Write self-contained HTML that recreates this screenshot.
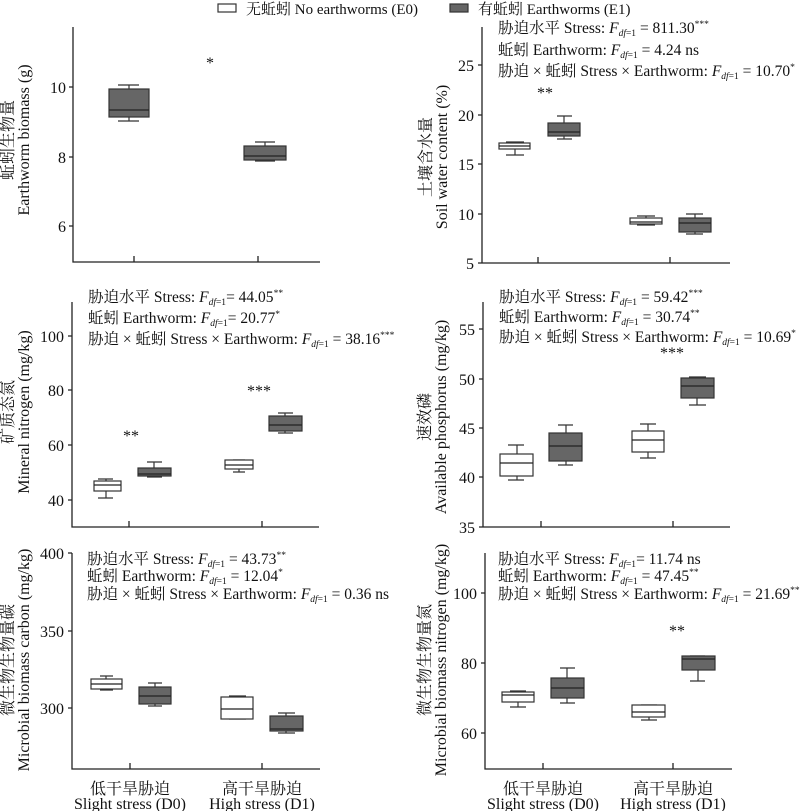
<!DOCTYPE html>
<html><head><meta charset="utf-8"><style>
html,body{margin:0;padding:0;background:#fff}
svg{display:block}
text{font-family:"Liberation Serif","Noto Serif CJK SC",serif;fill:#111}
.t{font-size:16px}
.a{font-size:15.5px}
.l{font-size:15px}
.s{font-size:9.5px}
.ax{stroke:#222;stroke-width:1.3;fill:none}
.w{fill:#fff;stroke:#333;stroke-width:1.2}
.g{fill:#666;stroke:#333;stroke-width:1.2}
.wl{stroke:#333;stroke-width:1.2;fill:none}
.m{stroke:#222;stroke-width:1.2}
</style></head><body>
<svg width="800" height="811" viewBox="0 0 800 811" xmlns="http://www.w3.org/2000/svg">
<!-- legend -->
<rect x="218" y="4" width="18" height="8" class="w"/>
<text x="246" y="14" class="l">无蚯蚓 No earthworms (E0)</text>
<rect x="450" y="4" width="18" height="8" class="g"/>
<text x="478" y="14" class="l">有蚯蚓 Earthworms (E1)</text>

<!-- Panel 1 -->
<path class="ax" d="M73 27V262H320M69 87H73M69 157H73M69 226H73M134 262V256M258 262V256"/>
<text x="66" y="93" class="t" text-anchor="end">10</text>
<text x="66" y="163" class="t" text-anchor="end">8</text>
<text x="66" y="232" class="t" text-anchor="end">6</text>
<text transform="translate(13,140) rotate(-90)" class="t" text-anchor="middle">蚯蚓生物量</text>
<text transform="translate(29,140) rotate(-90)" class="t" text-anchor="middle">Earthworm biomass (g)</text>
<path class="wl" d="M129 85V89M129 117V121M118 85H139M118 121H139"/>
<rect x="109" y="89" width="40" height="28" class="g"/><path class="m" d="M109 110H149"/>
<path class="wl" d="M265 142V146M265 160V161M255 142H275M255 161H275"/>
<rect x="244" y="146" width="42" height="14" class="g"/><path class="m" d="M244 156H286"/>
<text x="210" y="68" class="t" text-anchor="middle">*</text>

<!-- Panel 2 -->
<path class="ax" d="M482 27V263H730M478 65H482M478 115H482M478 164H482M478 214H482M478 263H482M538 263V257M670 263V257"/>
<text x="474" y="71" class="t" text-anchor="end">25</text>
<text x="474" y="121" class="t" text-anchor="end">20</text>
<text x="474" y="170" class="t" text-anchor="end">15</text>
<text x="474" y="220" class="t" text-anchor="end">10</text>
<text x="474" y="269" class="t" text-anchor="end">5</text>
<text transform="translate(431,157) rotate(-90)" class="t" text-anchor="middle">土壤含水量</text>
<text transform="translate(447,157) rotate(-90)" class="t" text-anchor="middle">Soil water content (%)</text>
<text x="498" y="33" class="a">胁迫水平 Stress: <tspan font-style="italic">F</tspan><tspan class="s" font-style="italic" dy="3">df</tspan><tspan class="s" dy="0">=1</tspan><tspan dy="-3"> = 811.30</tspan><tspan class="s" dy="-6">***</tspan></text>
<text x="498" y="55" class="a">蚯蚓 Earthworm: <tspan font-style="italic">F</tspan><tspan class="s" font-style="italic" dy="3">df</tspan><tspan class="s">=1</tspan><tspan dy="-3"> = 4.24 ns</tspan></text>
<text x="498" y="76" class="a">胁迫 × 蚯蚓 Stress × Earthworm: <tspan font-style="italic">F</tspan><tspan class="s" font-style="italic" dy="3">df</tspan><tspan class="s">=1</tspan><tspan dy="-3"> = 10.70</tspan><tspan class="s" dy="-6">*</tspan></text>
<text x="545" y="98" class="t" text-anchor="middle">**</text>
<path class="wl" d="M515 142V143M515 149V155M506 142H524M506 155H524"/>
<rect x="499" y="143" width="31" height="6" class="w"/><path class="m" d="M499 146H530"/>
<path class="wl" d="M564 116V123M564 136V139M557 116H572M557 139H572"/>
<rect x="548" y="123" width="32" height="13" class="g"/><path class="m" d="M548 132H580"/>
<path class="wl" d="M646 216V218M646 224V225M637 216H655M637 225H655"/>
<rect x="630" y="218" width="32" height="6" class="w"/><path class="m" d="M630 222H662"/>
<path class="wl" d="M695 214V218M695 232V234M686 214H703M686 234H703"/>
<rect x="679" y="218" width="32" height="14" class="g"/><path class="m" d="M679 223H711"/>

<!-- Panel 3 -->
<path class="ax" d="M72 302V527H319M68 336H72M68 390H72M68 445H72M68 500H72M129 527V521M262 527V521"/>
<text x="64" y="342" class="t" text-anchor="end">100</text>
<text x="64" y="396" class="t" text-anchor="end">80</text>
<text x="64" y="451" class="t" text-anchor="end">60</text>
<text x="64" y="506" class="t" text-anchor="end">40</text>
<text transform="translate(13,412) rotate(-90)" class="t" text-anchor="middle">矿质态氮</text>
<text transform="translate(29,412) rotate(-90)" class="t" text-anchor="middle">Mineral nitrogen (mg/kg)</text>
<text x="88" y="302" class="a">胁迫水平 Stress: <tspan font-style="italic">F</tspan><tspan class="s" font-style="italic" dy="3">df</tspan><tspan class="s">=1</tspan><tspan dy="-3">= 44.05</tspan><tspan class="s" dy="-6">**</tspan></text>
<text x="88" y="323" class="a">蚯蚓 Earthworm: <tspan font-style="italic">F</tspan><tspan class="s" font-style="italic" dy="3">df</tspan><tspan class="s">=1</tspan><tspan dy="-3">= 20.77</tspan><tspan class="s" dy="-6">*</tspan></text>
<text x="88" y="344" class="a">胁迫 × 蚯蚓 Stress × Earthworm: <tspan font-style="italic">F</tspan><tspan class="s" font-style="italic" dy="3">df</tspan><tspan class="s">=1</tspan><tspan dy="-3"> = 38.16</tspan><tspan class="s" dy="-6">***</tspan></text>
<text x="131" y="441" class="t" text-anchor="middle">**</text>
<text x="259" y="396" class="t" text-anchor="middle">***</text>
<path class="wl" d="M106 479V481M106 491V498M98 479H113M98 498H113"/>
<rect x="94" y="481" width="27" height="10" class="w"/><path class="m" d="M94 485H121"/>
<path class="wl" d="M154 462V468M154 476V477M147 462H162M147 477H162"/>
<rect x="138" y="468" width="33" height="8" class="g"/><path class="m" d="M138 474H171"/>
<path class="wl" d="M239 460V460M239 469V472M233 460H245M233 472H245"/>
<rect x="225" y="460" width="28" height="9" class="w"/><path class="m" d="M225 465H253"/>
<path class="wl" d="M285 413V416M285 431V433M278 413H293M278 433H293"/>
<rect x="269" y="416" width="33" height="15" class="g"/><path class="m" d="M269 425H302"/>

<!-- Panel 4 -->
<path class="ax" d="M483 302V527H730M479 329H483M479 379H483M479 428H483M479 477H483M479 527H483M541 527V521M673 527V521"/>
<text x="475" y="335" class="t" text-anchor="end">55</text>
<text x="475" y="385" class="t" text-anchor="end">50</text>
<text x="475" y="434" class="t" text-anchor="end">45</text>
<text x="475" y="483" class="t" text-anchor="end">40</text>
<text x="475" y="533" class="t" text-anchor="end">35</text>
<text transform="translate(430,417) rotate(-90)" class="t" text-anchor="middle">速效磷</text>
<text transform="translate(446,417) rotate(-90)" class="t" text-anchor="middle">Available phosphorus (mg/kg)</text>
<text x="499" y="302" class="a">胁迫水平 Stress: <tspan font-style="italic">F</tspan><tspan class="s" font-style="italic" dy="3">df</tspan><tspan class="s">=1</tspan><tspan dy="-3"> = 59.42</tspan><tspan class="s" dy="-6">***</tspan></text>
<text x="499" y="322" class="a">蚯蚓 Earthworm: <tspan font-style="italic">F</tspan><tspan class="s" font-style="italic" dy="3">df</tspan><tspan class="s">=1</tspan><tspan dy="-3"> = 30.74</tspan><tspan class="s" dy="-6">**</tspan></text>
<text x="499" y="342" class="a">胁迫 × 蚯蚓 Stress × Earthworm: <tspan font-style="italic">F</tspan><tspan class="s" font-style="italic" dy="3">df</tspan><tspan class="s">=1</tspan><tspan dy="-3"> = 10.69</tspan><tspan class="s" dy="-6">*</tspan></text>
<text x="672" y="358" class="t" text-anchor="middle">***</text>
<path class="wl" d="M517 445V454M517 476V480M508 445H524M508 480H524"/>
<rect x="500" y="454" width="33" height="22" class="w"/><path class="m" d="M500 463H533"/>
<path class="wl" d="M566 425V433M566 461V465M558 425H573M558 465H573"/>
<rect x="549" y="433" width="33" height="28" class="g"/><path class="m" d="M549 446H582"/>
<path class="wl" d="M648 424V431M648 452V458M640 424H656M640 458H656"/>
<rect x="632" y="431" width="32" height="21" class="w"/><path class="m" d="M632 440H664"/>
<path class="wl" d="M697 377V378M697 398V405M689 377H706M689 405H706"/>
<rect x="681" y="378" width="33" height="20" class="g"/><path class="m" d="M681 386H714"/>

<!-- Panel 5 -->
<path class="ax" d="M72 553V769H320M68 553H72M68 631H72M68 708H72M130 769V763M262 769V763"/>
<text x="64" y="559" class="t" text-anchor="end">400</text>
<text x="64" y="637" class="t" text-anchor="end">350</text>
<text x="64" y="714" class="t" text-anchor="end">300</text>
<text transform="translate(13,660) rotate(-90)" class="t" text-anchor="middle">微生物生物量碳</text>
<text transform="translate(29,660) rotate(-90)" class="t" text-anchor="middle">Microbial biomass carbon (mg/kg)</text>
<text x="87" y="564" class="a">胁迫水平 Stress: <tspan font-style="italic">F</tspan><tspan class="s" font-style="italic" dy="3">df</tspan><tspan class="s">=1</tspan><tspan dy="-3"> = 43.73</tspan><tspan class="s" dy="-6">**</tspan></text>
<text x="87" y="581" class="a">蚯蚓 Earthworm: <tspan font-style="italic">F</tspan><tspan class="s" font-style="italic" dy="3">df</tspan><tspan class="s">=1</tspan><tspan dy="-3"> = 12.04</tspan><tspan class="s" dy="-6">*</tspan></text>
<text x="87" y="599" class="a">胁迫 × 蚯蚓 Stress × Earthworm: <tspan font-style="italic">F</tspan><tspan class="s" font-style="italic" dy="3">df</tspan><tspan class="s">=1</tspan><tspan dy="-3"> = 0.36 ns</tspan></text>
<path class="wl" d="M106 676V679M106 689V690M100 676H113M100 690H113"/>
<rect x="91" y="679" width="31" height="10" class="w"/><path class="m" d="M91 684H122"/>
<path class="wl" d="M155 683V687M155 704V706M148 683H162M148 706H162"/>
<rect x="139" y="687" width="32" height="17" class="g"/><path class="m" d="M139 696H171"/>
<path class="wl" d="M237 696V697M229 696H246M229 719H246"/>
<rect x="221" y="697" width="32" height="22" class="w"/><path class="m" d="M221 709H253"/>
<path class="wl" d="M286 713V716M286 731V733M278 713H295M278 733H295"/>
<rect x="270" y="716" width="33" height="15" class="g"/><path class="m" d="M270 729H303"/>
<text x="130" y="794" class="t" text-anchor="middle">低干旱胁迫</text>
<text x="130" y="809" class="t" text-anchor="middle">Slight stress (D0)</text>
<text x="262" y="794" class="t" text-anchor="middle">高干旱胁迫</text>
<text x="262" y="809" class="t" text-anchor="middle">High stress (D1)</text>

<!-- Panel 6 -->
<path class="ax" d="M485 553V769H732M481 593H485M481 663H485M481 733H485M543 769V763M673 769V763"/>
<text x="477" y="599" class="t" text-anchor="end">100</text>
<text x="477" y="669" class="t" text-anchor="end">80</text>
<text x="477" y="739" class="t" text-anchor="end">60</text>
<text transform="translate(430,660) rotate(-90)" class="t" text-anchor="middle">微生物生物量氮</text>
<text transform="translate(446,660) rotate(-90)" class="t" text-anchor="middle">Microbial biomass nitrogen (mg/kg)</text>
<text x="498" y="564" class="a">胁迫水平 Stress: <tspan font-style="italic">F</tspan><tspan class="s" font-style="italic" dy="3">df</tspan><tspan class="s">=1</tspan><tspan dy="-3">= 11.74 ns</tspan></text>
<text x="498" y="581" class="a">蚯蚓 Earthworm: <tspan font-style="italic">F</tspan><tspan class="s" font-style="italic" dy="3">df</tspan><tspan class="s">=1</tspan><tspan dy="-3"> = 47.45</tspan><tspan class="s" dy="-6">**</tspan></text>
<text x="498" y="599" class="a">胁迫 × 蚯蚓 Stress × Earthworm: <tspan font-style="italic">F</tspan><tspan class="s" font-style="italic" dy="3">df</tspan><tspan class="s">=1</tspan><tspan dy="-3"> = 21.69</tspan><tspan class="s" dy="-6">**</tspan></text>
<text x="677" y="636" class="t" text-anchor="middle">**</text>
<path class="wl" d="M518 691V692M518 702V707M510 691H526M510 707H526"/>
<rect x="502" y="692" width="32" height="10" class="w"/><path class="m" d="M502 695H534"/>
<path class="wl" d="M567 668V678M567 698V703M560 668H575M560 703H575"/>
<rect x="551" y="678" width="33" height="20" class="g"/><path class="m" d="M551 688H584"/>
<path class="wl" d="M649 717V720M641 705H657M641 720H657"/>
<rect x="632" y="705" width="33" height="12" class="w"/><path class="m" d="M632 712H665"/>
<path class="wl" d="M698 670V681M690 656H705M690 681H705"/>
<rect x="682" y="656" width="33" height="14" class="g"/><path class="m" d="M682 659H715"/>
<text x="543" y="794" class="t" text-anchor="middle">低干旱胁迫</text>
<text x="543" y="809" class="t" text-anchor="middle">Slight stress (D0)</text>
<text x="673" y="794" class="t" text-anchor="middle">高干旱胁迫</text>
<text x="673" y="809" class="t" text-anchor="middle">High stress (D1)</text>
</svg>
</body></html>
